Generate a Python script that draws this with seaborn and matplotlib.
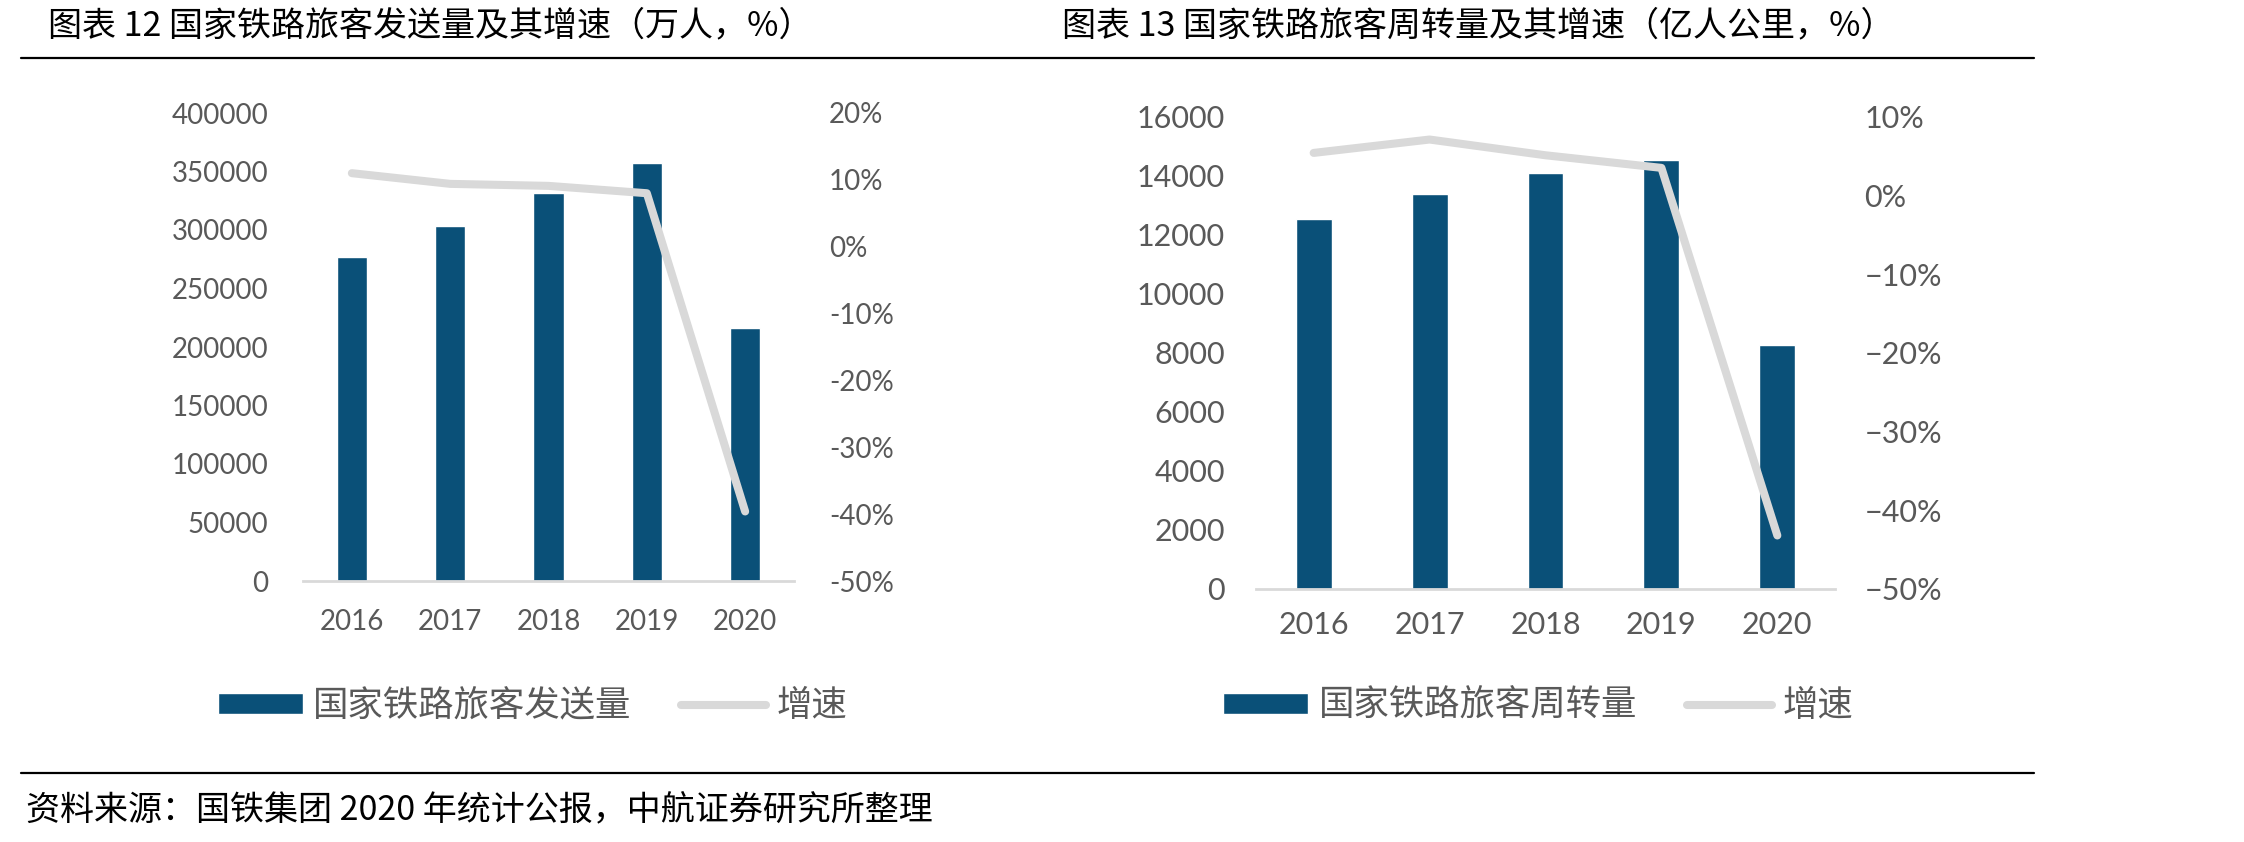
import numpy as np
import pandas as pd
import matplotlib
matplotlib.use("Agg")
import matplotlib.pyplot as plt
import seaborn as sns
from matplotlib.patches import Patch
from matplotlib.lines import Line2D
from matplotlib.ticker import FuncFormatter

sns.set_theme(style="white")
plt.rcParams['font.family'] = ['Lato', 'Noto Sans CJK SC', 'DejaVu Sans']

# 数据
years = ['2016', '2017', '2018', '2019', '2020']
fasong = [276700, 303200, 331400, 357500, 216200]      # 旅客发送量，万人
fasong_zs = [11.0, 9.4, 9.1, 8.0, -39.6]               # 增速，%
zhouzhuan = [12534, 13392, 14082, 14533, 8266]         # 旅客周转量，亿人公里
zhouzhuan_zs = [5.4, 7.1, 5.1, 3.5, -43.2]             # 增速，%

bar_c = '#0A5078'
line_c = '#D9D9D9'
txt_c = '#595959'
W, H = 2244, 842
cjk = ['Noto Sans CJK SC', 'DejaVu Sans']

fig = plt.figure(figsize=(W / 100, H / 100), dpi=100)


def combo(rect, bars, growth, ymax, ystep, pmax, fs, lpad, rpad, xpad, minus):
    ax = fig.add_axes(rect)
    sns.barplot(x=years, y=bars, ax=ax, color=bar_c, width=0.31, saturation=1)
    ax.set_xlim(-0.5, len(years) - 0.5)
    ax.set_ylim(0, ymax)
    ax.set_yticks(np.arange(0, ymax + 1, ystep))
    ax.yaxis.set_major_formatter(FuncFormatter(lambda v, p: f"{v:.0f}"))
    for s in ['top', 'right', 'left']:
        ax.spines[s].set_visible(False)
    ax.spines['bottom'].set_color(line_c)
    ax.spines['bottom'].set_linewidth(2)
    ax.tick_params(axis='both', length=0, colors=txt_c, labelsize=fs)
    ax.tick_params(axis='y', pad=lpad)
    ax.tick_params(axis='x', pad=xpad)
    ax.set_xlabel('')
    ax.set_ylabel('')

    ax2 = ax.twinx()
    df = pd.DataFrame({'pos': np.arange(len(years)), 'zs': growth})
    sns.lineplot(data=df, x='pos', y='zs', ax=ax2, color=line_c, linewidth=5.8,
                 solid_capstyle='round', solid_joinstyle='round', sort=False)
    ax2.set_ylim(-50, pmax)
    ax2.set_yticks(np.arange(-50, pmax + 1, 10))
    ax2.yaxis.set_major_formatter(
        FuncFormatter(lambda v, p: f"{v:.0f}%".replace('-', minus)))
    for s in ax2.spines.values():
        s.set_visible(False)
    ax2.tick_params(axis='y', length=0, colors=txt_c, labelsize=fs, pad=rpad)
    ax2.set_xlabel('')
    ax2.set_ylabel('')
    ax2.set_xlim(-0.5, len(years) - 0.5)
    return ax


# 图表 12
combo([302.7 / W, 1 - 581 / H, 491.6 / W, 468 / H], fasong, fasong_zs,
      400000, 50000, 20, 20, 25, 25, 20, '-')
# 图表 13
combo([1255.7 / W, 1 - 589 / H, 579.6 / W, 472.3 / H], zhouzhuan, zhouzhuan_zs,
      16000, 2000, 10, 22, 22, 21, 16, '\u2212')

# 图例
for x0, name in [(217.5, '国家铁路旅客发送量'), (1223, '国家铁路旅客周转量')]:
    handles = [Patch(facecolor=bar_c, label=name),
               Line2D([0], [0], color=line_c, lw=5.8, solid_capstyle='round', label='增速')]
    fig.legend(handles=handles, loc='center left', bbox_to_anchor=(x0 / W, 1 - 706 / H),
               ncol=2, frameon=False, handlelength=2.4, handleheight=0.5,
               handletextpad=0.3, columnspacing=1.4, borderpad=0, borderaxespad=0,
               labelcolor=txt_c, prop={'family': cjk, 'size': 25.5})

# 标题
fig.text(48 / W, 1 - 26 / H, '图表 12 国家铁路旅客发送量及其增速（万人，%）',
         fontsize=24.5, va='center', ha='left', family=cjk, color='black')
fig.text(1062 / W, 1 - 26 / H, '图表 13 国家铁路旅客周转量及其增速（亿人公里，%）',
         fontsize=24.5, va='center', ha='left', family=cjk, color='black')
fig.add_artist(Line2D([21 / W, 2034 / W], [1 - 57.7 / H] * 2, color='black', lw=1.6,
                      transform=fig.transFigure))
fig.add_artist(Line2D([21 / W, 2034 / W], [1 - 773 / H] * 2, color='black', lw=1.6,
                      transform=fig.transFigure))

# 资料来源
fig.text(26 / W, 1 - 810 / H, '资料来源：国铁集团 2020 年统计公报，中航证券研究所整理',
         fontsize=24.5, va='center', ha='left', family=cjk, color='black')

fig.savefig('out.png', dpi=100)
